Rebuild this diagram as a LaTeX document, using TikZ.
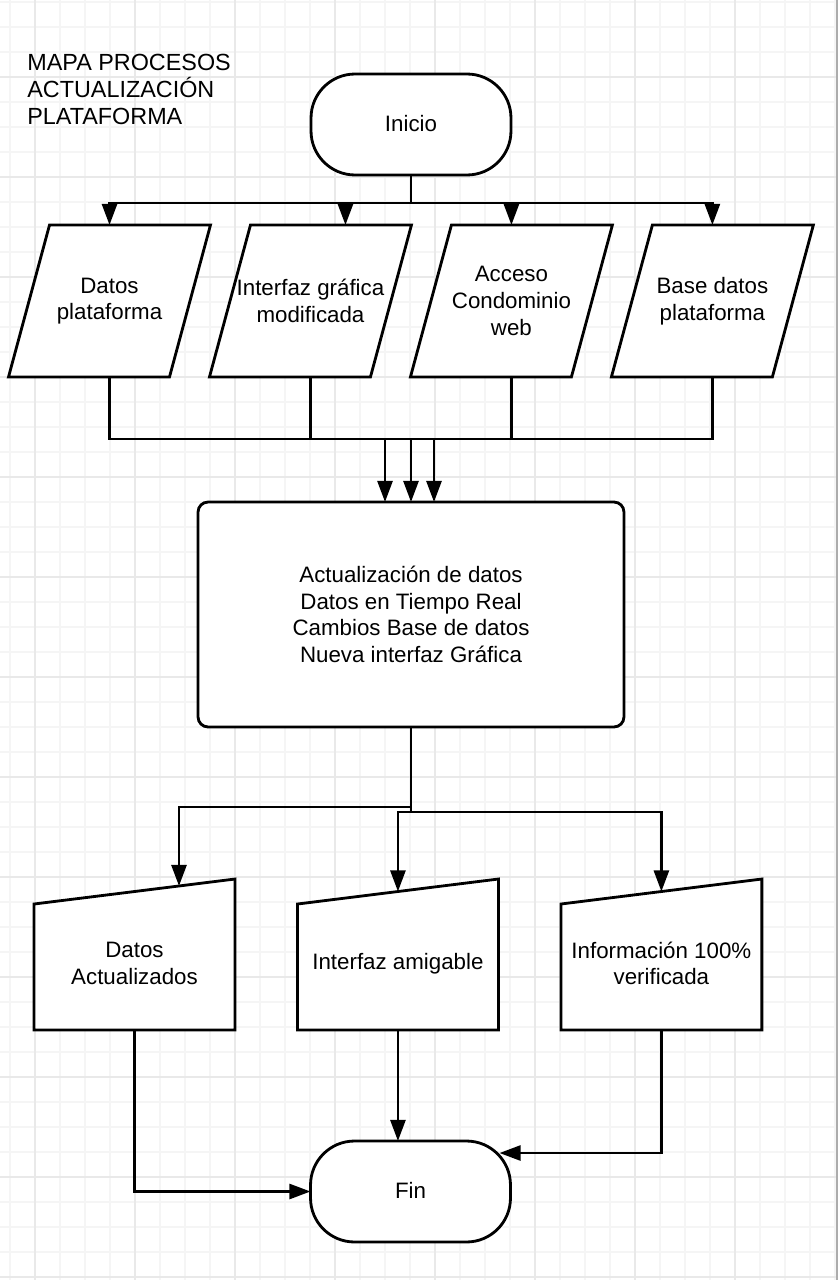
\documentclass[tikz,border=0pt]{standalone}
\usepackage{fontspec}
\setmainfont{Liberation Sans}
\usetikzlibrary{arrows.meta, positioning}

\pgfdeclarelayer{grid}
\pgfdeclarelayer{shapes}
\pgfsetlayers{grid,shapes,main}

\begin{document}
\begin{tikzpicture}[x=0.02cm, y=-0.02cm,
    box/.style={font=\fontsize{12.7}{15.2}\selectfont, align=center, inner sep=0pt, outer sep=0pt},
    iobox/.style={box, minimum width=3.22cm, minimum height=3.04cm},
    inbox/.style={box, minimum width=4.02cm, minimum height=2.66cm},
    term/.style={box, draw, fill=white, line width=1.6pt, rounded corners=0.88cm, minimum width=4cm, minimum height=2.02cm},
    shapeline/.style={draw, fill=white, line width=1.6pt},
    link/.style={line width=1.6pt},
    arr/.style={line width=1.6pt, -{Triangle[length=12pt,width=8.5pt]}}]
    \useasboundingbox (0,0) rectangle (838,1280);

    \begin{pgfonlayer}{grid}
        \fill[white] (0,0) rectangle (838,1280);
        \foreach \gx in {10,35,...,835} \draw[gray!8, line width=0.6pt] (\gx,0) -- (\gx,1280);
        \foreach \gy in {2,27,...,1277} \draw[gray!8, line width=0.6pt] (0,\gy) -- (838,\gy);
        \foreach \gx in {35,135,...,735} \draw[gray!17, line width=0.6pt] (\gx,0) -- (\gx,1280);
        \foreach \gy in {77,177,...,1277} \draw[gray!17, line width=0.6pt] (0,\gy) -- (838,\gy);
        \fill[gray!65] (836,0) rectangle (838,1280);
    \end{pgfonlayer}

    \node[anchor=north west, align=left, inner sep=0pt, font=\fontsize{13.3}{15.3}\selectfont] (title) at (27,54) {MAPA PROCESOS\\ACTUALIZACIÓN\\PLATAFORMA};

    \node[term] (inicio) at (411,124.5) {\raisebox{0.05cm}{Inicio}};
    \node[iobox] (p1) at (109.5,301) {Datos\\plataforma};
    \node[iobox, right=0.8cm of p1] (p2) {Interfaz gráfica\\modificada};
    \node[iobox, right=0.8cm of p2] (p3) {Acceso\\Condominio\\web};
    \node[iobox, right=0.8cm of p3] (p4) {Base datos\\plataforma};
    \node[box, draw, fill=white, line width=1.6pt, rounded corners=0.2cm, minimum width=8.52cm, minimum height=4.5cm] (proc) at (411,614.5) {Actualización de datos\\Datos en Tiempo Real\\Cambios Base de datos\\Nueva interfaz Gráfica};
    \node[inbox] (m1) at (134.5,963.5) {Datos\\Actualizados};
    \node[inbox, right=1.25cm of m1] (m2) {Interfaz amigable};
    \node[inbox, right=1.25cm of m2] (m3) {Información 100\%\\verificada};
    \node[term] (fin) at (410.5,1191.5) {\raisebox{0.05cm}{Fin}};

    \begin{pgfonlayer}{shapes}
        \foreach \n in {p1,p2,p3,p4}
            \draw[shapeline] ([xshift=0.41cm]\n.north west) -- ([xshift=0.41cm]\n.north east) -- ([xshift=-0.41cm]\n.south east) -- ([xshift=-0.41cm]\n.south west) -- cycle;
        \foreach \n in {m1,m2,m3}
            \draw[shapeline] (\n.south west) -- ([yshift=-0.14cm]\n.north west) -- ([yshift=0.36cm]\n.north east) -- (\n.south east) -- cycle;
    \end{pgfonlayer}

    \coordinate (split) at (411,203);
    \coordinate (merge) at (411,439);
    \coordinate (forkl) at (411,807);
    \coordinate (forkr) at (411,812);

    \draw[link] (inicio.south) -- (split);
    \draw[arr] (split) -| (p1.north);
    \draw[arr] (split) -| ([xshift=0.7cm]p2.north);
    \draw[arr] (split) -| (p3.north);
    \draw[arr] (split) -| (p4.north);

    \foreach \n in {p1,p2,p3,p4} \draw[link] (\n.south) |- (merge);
    \foreach \dx in {-0.52,0,0.46} \draw[arr] ([xshift=\dx cm]merge) -- ([xshift=\dx cm]proc.north);

    \draw[link] (proc.south) -- (forkr);
    \draw[arr] (forkl) -| ([xshift=0.89cm,yshift=0.22cm]m1.north);
    \draw[arr] (forkr) -| ([yshift=0.11cm]m2.north);
    \draw[arr] (forkr) -| ([yshift=0.11cm]m3.north);

    \draw[arr] (m1.south) |- (fin.west);
    \draw[arr] (m2.south) -- (m2.south |- fin.north);
    \draw[arr] (m3.south) |- ([xshift=-0.22cm,yshift=0.77cm]fin.east);
\end{tikzpicture}
\end{document}
